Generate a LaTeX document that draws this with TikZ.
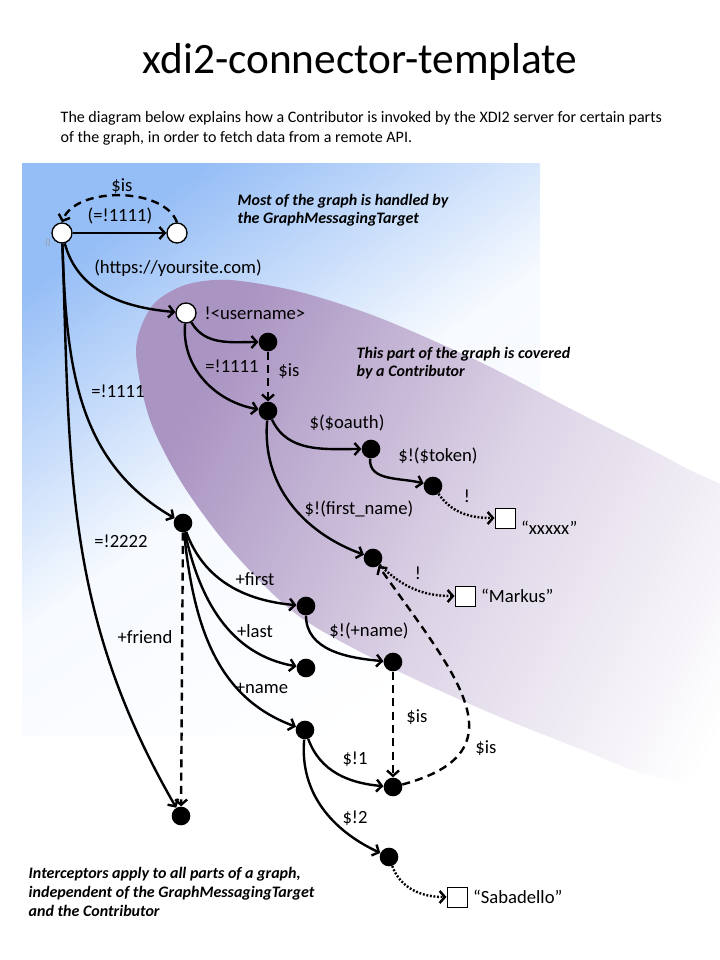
\documentclass[tikz,border=0pt]{standalone}
\usepackage{fontspec}
\setmainfont{Carlito}
\usetikzlibrary{arrows.meta, positioning}
\definecolor{skyblue}{RGB}{150,190,246}
\definecolor{lilac}{RGB}{170,148,194}
\definecolor{softgray}{RGB}{150,150,150}
\tikzstyle{opendot} = [circle, draw, line width=1pt, fill=white, minimum size=15pt, inner sep=0pt]
\tikzstyle{blackdot} = [circle, fill=black, minimum size=14pt, inner sep=0pt]
\tikzstyle{litbox} = [rectangle, draw, line width=0.7pt, fill=white, minimum size=15pt, inner sep=0pt]
\tikzstyle{rel} = [line width=1.8pt, -{Straight Barb[length=4pt,width=9pt]}]
\tikzstyle{relis} = [rel, dash pattern=on 6pt off 4pt]
\tikzstyle{relval} = [rel, dash pattern=on 1.4pt off 1.3pt]
\tikzstyle{arclabel} = [font=\fontsize{14}{16}\selectfont, inner sep=1pt]
\tikzstyle{note} = [font=\fontsize{12}{13.8}\selectfont\bfseries\itshape, align=left, anchor=west]

\begin{document}
\begin{tikzpicture}[x=0.75pt, y=0.75pt]
	\useasboundingbox (0,0) rectangle (720,-960);
	\clip (0,0) rectangle (720,-960);
	\shade[top color=skyblue, bottom color=white, middle color=skyblue!8, shading angle=35] (22,-163) rectangle (540,-735);
	\shade[left color=lilac, right color=white, middle color=lilac!40, shading angle=63]
		plot[smooth cycle] coordinates {(136,-350) (152,-306) (185,-285) (230,-280) (300,-292) (380,-318) (480,-362) (573,-410) (680,-465) (770,-520) (800,-660) (760,-790) (650,-775) (583,-750) (500,-717) (400,-672) (300,-617) (233,-552) (183,-485) (150,-420)};

	\node (title) at (360,-62) {\fontsize{32.5}{38}\selectfont xdi2-connector-template};
	\node[anchor=west, align=left, font=\fontsize{12}{15}\selectfont] (intro) at (56,-128) {The diagram below explains how a Contributor  is invoked by the XDI2 server for certain parts\\of the graph, in order to fetch data from  a remote  API.};
	\node[note] (note1) at (233,-210) {Most of the graph  is handled by\\the GraphMessagingTarget};
	\node[note] (note2) at (352,-363) {This part of the graph is covered\\by a Contributor};
	\node[note, font=\fontsize{12}{14.3}\selectfont\bfseries\itshape] (note3) at (24,-892) {Interceptors apply  to all parts of a graph,\\independent  of the GraphMessagingTarget\\and the Contributor};

	\node[opendot] (root) at (62,-233) {};
	\node[opendot] (eq) at (177,-233) {};
	\node[opendot] (user) at (186,-313) {};
	\node[blackdot] (uis) at (268,-342) {};
	\node[blackdot] (uid) at (268,-411) {};
	\node[blackdot] (oauth) at (371,-449) {};
	\node[blackdot] (token) at (433,-486) {};
	\node[litbox] (tokval) at (505,-518) {};
	\node[blackdot] (fname) at (373,-558) {};
	\node[litbox] (fnameval) at (465,-596) {};
	\node[blackdot] (p1) at (183,-523) {};
	\node[blackdot] (p2) at (181,-816) {};
	\node[blackdot] (first) at (306,-606) {};
	\node[blackdot] (last) at (306,-668) {};
	\node[blackdot] (name) at (305,-730) {};
	\node[blackdot] (nmval) at (393,-662) {};
	\node[blackdot] (nm1) at (393,-787) {};
	\node[blackdot] (nm2) at (389,-857) {};
	\node[litbox] (nm2val) at (457,-897) {};

	\node[arclabel, right=3pt of tokval, yshift=-7pt] (tokstr) {“xxxxx”};
	\node[arclabel, right=3pt of fnameval] (fnamestr) {“Markus”};
	\node[arclabel, right=3pt of nm2val] (nm2str) {“Sabadello”};

	\draw[rel] (root) -- (eq);
	\draw[relis] (eq.north) to[out=110, in=70, looseness=0.85] (root.north);
	\draw[rel] (root) to[out=-75, in=175] (user);
	\draw[rel] (root) to[out=-88, in=150] (p1);
	\draw[rel] (root) to[out=-88, in=120] (p2);
	\draw[rel] (user) to[out=-60, in=180] (uis);
	\draw[rel] (user) to[out=-95, in=170] (uid);
	\draw[relis] (uis) -- (uid);
	\draw[rel] (uid) to[out=-65, in=180] (oauth);
	\draw[rel] (oauth) to[out=-95, in=165] (token);
	\draw[relval] (token) to[out=-55, in=180] (tokval);
	\draw[rel] (uid) to[out=-95, in=160] (fname);
	\draw[relval] (fname) to[out=-45, in=180] (fnameval);
	\draw[relis] (nm1) to[out=15, in=-55, looseness=1.5] (fname);
	\draw[relis] (p1) -- (p2);
	\draw[rel] (p1) to[out=-70, in=175] (first);
	\draw[rel] (p1) to[out=-78, in=170] (last);
	\draw[rel] (p1) to[out=-84, in=160] (name);
	\draw[rel] (first) to[out=-90, in=175] (nmval);
	\draw[relis] (nmval) -- (nm1);
	\draw[rel] (name) to[out=-70, in=175] (nm1);
	\draw[rel] (name) to[out=-95, in=155] (nm2);
	\draw[relval] (nm2) to[out=-70, in=180] (nm2val);

	\node[arclabel] (l-is) at (122,-186) {\$is};
	\node[arclabel] (l-eq) at (120,-216) {(=!1111)};
	\node[font=\fontsize{7}{8}\selectfont\itshape, text=softgray] (l-root) at (48,-243) {()};
	\node[arclabel] (l-site) at (178,-268) {(https://yoursite.com)};
	\node[arclabel] (l-user) at (255,-313) {!<username>};
	\node[arclabel] (l-uid) at (232,-366) {=!1111};
	\node[arclabel] (l-uis) at (289,-371) {\$is};
	\node[arclabel] (l-oauth) at (347,-423) {\$(\$oauth)};
	\node[arclabel] (l-token) at (438,-456) {\$!(\$token)};
	\node[arclabel] (l-tokval) at (467,-496) {!};
	\node[arclabel] (l-fname) at (359,-509) {\$!(first\_name)};
	\node[arclabel] (l-fnameval) at (418,-573) {!};
	\node[arclabel] (l-p1) at (118,-391) {=!1111};
	\node[arclabel] (l-p2) at (121,-541) {=!2222};
	\node[arclabel] (l-friend) at (145,-637) {+friend};
	\node[arclabel] (l-first) at (255,-579) {+first};
	\node[arclabel] (l-last) at (255,-631) {+last};
	\node[arclabel] (l-name) at (262,-688) {+name};
	\node[arclabel] (l-nmval) at (369,-631) {\$!(+name)};
	\node[arclabel] (l-nmis) at (417,-717) {\$is};
	\node[arclabel] (l-nm1) at (355,-759) {\$!1};
	\node[arclabel] (l-nm2) at (355,-818) {\$!2};
	\node[arclabel] (l-fnis) at (486,-748) {\$is};
\end{tikzpicture}
\end{document}
